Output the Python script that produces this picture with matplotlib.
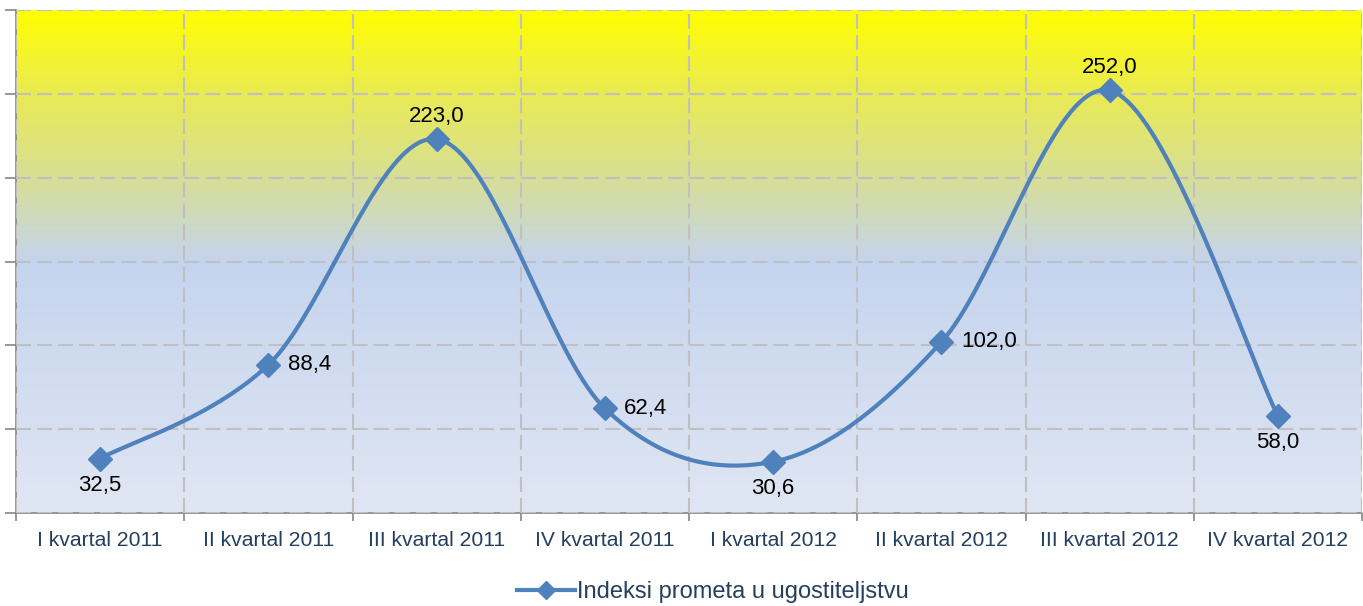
# -*- coding: utf-8 -*-
# Importar librerías
import numpy as np
import matplotlib.pyplot as plt
from matplotlib.colors import LinearSegmentedColormap
from matplotlib.lines import Line2D

# Datos del gráfico
kvartali = ["I kvartal 2011", "II kvartal 2011", "III kvartal 2011", "IV kvartal 2011",
            "I kvartal 2012", "II kvartal 2012", "III kvartal 2012", "IV kvartal 2012"]
indeksi = [32.5, 88.4, 223.0, 62.4, 30.6, 102.0, 252.0, 58.0]
etiquetas = ["32,5", "88,4", "223,0", "62,4", "30,6", "102,0", "252,0", "58,0"]
posicion_etiqueta = ["below", "right", "above", "right", "below", "right", "above", "below"]
serie = "Indeksi prometa u ugostiteljstvu"

plt.rcParams["font.family"] = ["Liberation Sans", "DejaVu Sans"]

def curva_suave(x, y, pasos=40):
    """
    Curva suavizada tipo Catmull-Rom (similar a la línea suavizada de Excel)
    """
    px = np.concatenate([[x[0]], x, [x[-1]]])
    py = np.concatenate([[y[0]], y, [y[-1]]])
    xs, ys = [], []
    t = np.linspace(0, 1, pasos)
    for i in range(1, len(px) - 2):
        p0 = np.array([px[i], py[i]])
        p3 = np.array([px[i + 1], py[i + 1]])
        c1 = p0 + (np.array([px[i + 1], py[i + 1]]) - np.array([px[i - 1], py[i - 1]])) / 6
        c2 = p3 - (np.array([px[i + 2], py[i + 2]]) - np.array([px[i], py[i]])) / 6
        b = ((1 - t) ** 3)[:, None] * p0 + (3 * (1 - t) ** 2 * t)[:, None] * c1 \
            + (3 * (1 - t) * t ** 2)[:, None] * c2 + (t ** 3)[:, None] * p3
        xs.extend(b[:, 0])
        ys.extend(b[:, 1])
    return np.array(xs), np.array(ys)

x = np.arange(len(kvartali))
fig = plt.figure(figsize=(13.63, 6.06), dpi=100)
ax = fig.add_axes([16 / 1363, 1 - 513 / 606, 1346 / 1363, 503 / 606])

# Fondo degradado
cmap = LinearSegmentedColormap.from_list("fondo", [
    (0.0, "#E0E6F3"), (0.5, "#C5D4EE"), (0.66, "#D6DE98"), (0.83, "#E9EA55"), (1.0, "#FFFF00")])
grad = np.linspace(0, 1, 256).reshape(-1, 1)
ax.imshow(grad, extent=[-0.5, 7.5, 0, 300], aspect="auto", cmap=cmap, origin="lower", zorder=0)

xs, ys = curva_suave(x.astype(float), np.array(indeksi))
ax.plot(xs, ys, color="#4F81BD", lw=3.0, zorder=3, solid_capstyle="round")
ax.plot(x, indeksi, linestyle="none", marker="D", markersize=12, color="#4F81BD", zorder=4)

for xi, yi, txt, pos in zip(x, indeksi, etiquetas, posicion_etiqueta):
    if pos == "below":
        ax.annotate(txt, (xi, yi), xytext=(0, -12), textcoords="offset points",
                    ha="center", va="top", fontsize=16, color="black", zorder=5)
    elif pos == "above":
        ax.annotate(txt, (xi, yi), xytext=(0, 9), textcoords="offset points",
                    ha="center", va="bottom", fontsize=16, color="black", zorder=5)
    else:
        ax.annotate(txt, (xi, yi), xytext=(14, 0), textcoords="offset points",
                    ha="left", va="center", fontsize=16, color="black", zorder=5)

ax.set_xlim(-0.5, 7.5)
ax.set_ylim(0, 300)
ax.set_xticks(x)
ax.set_xticklabels(kvartali, fontsize=15.2, color="#243F60")
ax.set_xticks(np.arange(-0.5, 8.0, 1.0), minor=True)
ax.tick_params(axis="x", which="major", length=0, pad=13)
ax.tick_params(axis="x", which="minor", length=6, color="#868686", width=1.2)
ax.set_yticks(np.arange(0, 301, 50))
ax.set_yticklabels([])
ax.tick_params(axis="y", length=8, color="#868686", width=1.2)

ax.grid(True, axis="y", which="major", linestyle=(0, (7.2, 2.9)), color="#C0C0C0", lw=1.5, zorder=1)
ax.grid(True, axis="x", which="minor", linestyle=(0, (7.2, 2.9)), color="#C0C0C0", lw=1.5, zorder=1)
ax.set_axisbelow(False)
for lado in ["top", "right"]:
    ax.spines[lado].set_visible(False)
for lado in ["left", "bottom"]:
    ax.spines[lado].set_color("#868686")
    ax.spines[lado].set_linewidth(1.2)

# Leyenda
manija = Line2D([], [], color="#4F81BD", lw=3.0, marker="D", markersize=9)
fig.legend([manija], [serie], loc="center", bbox_to_anchor=(713 / 1363, 1 - 592 / 606), frameon=False,
           fontsize=17, labelcolor="#243F60", handlelength=2.45, handletextpad=0.1)

fig.savefig("out.png", dpi=100)
